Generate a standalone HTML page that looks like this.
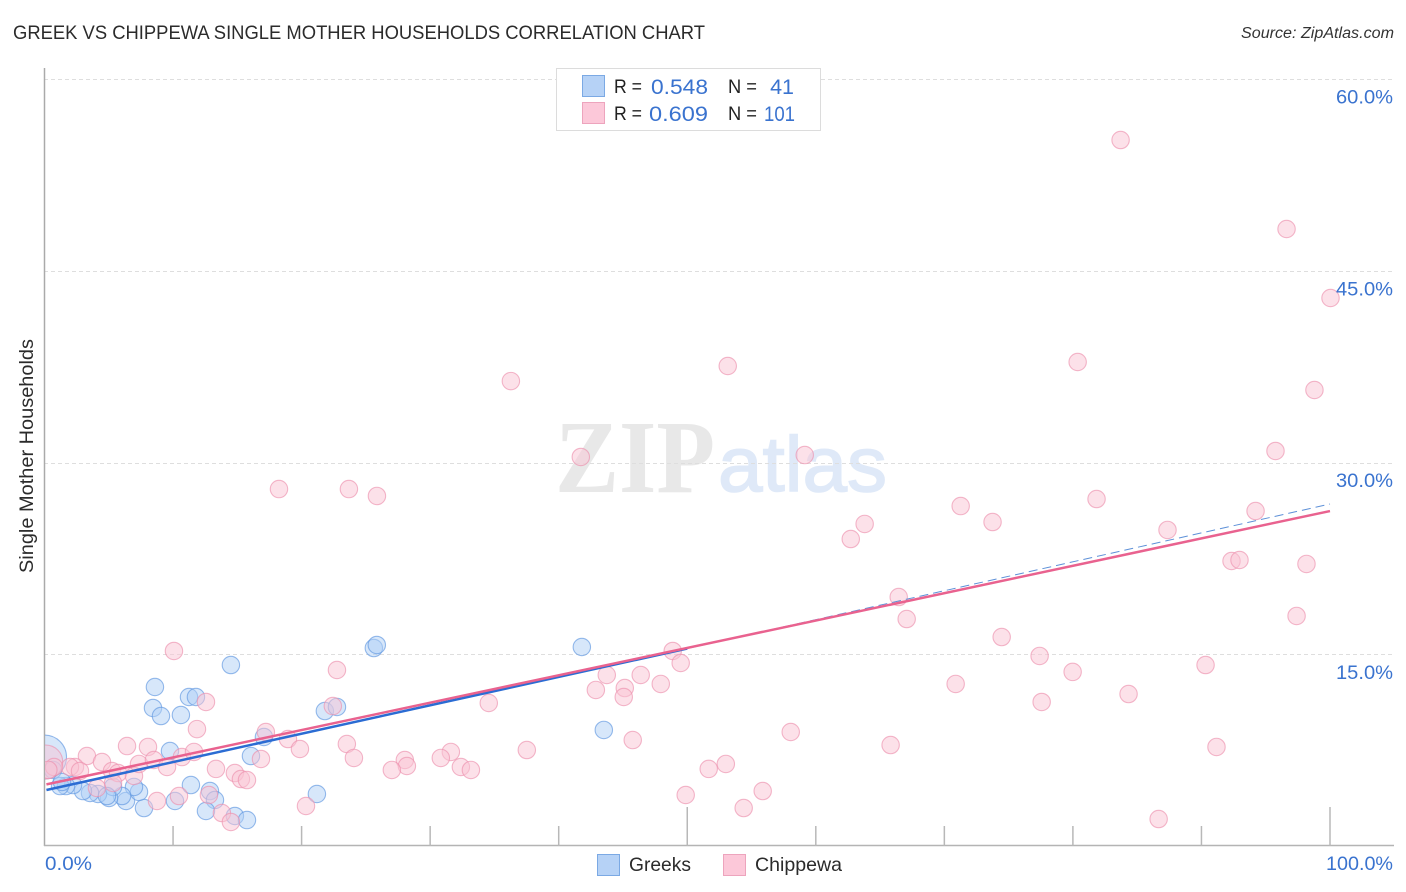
<!DOCTYPE html>
<html lang="en">
<head>
<meta charset="utf-8">
<title>Greek vs Chippewa Single Mother Households Correlation Chart</title>
<style>
html,body{margin:0;padding:0;background:#fff;width:1406px;height:892px;overflow:hidden}
svg{display:block;filter:blur(0.3px)}
text{font-family:"Liberation Sans",sans-serif}
</style>
</head>
<body>
<svg id="chart" xmlns="http://www.w3.org/2000/svg" width="1406" height="892" viewBox="0 0 1406 892">
  <defs><clipPath id="plot-clip"><rect x="45" y="60" width="1349" height="786"/></clipPath></defs>
  <rect x="0" y="0" width="1406" height="892" fill="#ffffff"/>
  <text x="13" y="39" font-size="19.5" fill="#2b2b2b" textLength="692" lengthAdjust="spacingAndGlyphs">GREEK VS CHIPPEWA SINGLE MOTHER HOUSEHOLDS CORRELATION CHART</text>
  <text x="1394" y="38" font-size="15.5" font-style="italic" fill="#333" text-anchor="end" textLength="153" lengthAdjust="spacingAndGlyphs">Source: ZipAtlas.com</text>
  <g>
    <text x="555" y="492" font-size="104" font-weight="bold" fill="#e8e8e8" textLength="160" lengthAdjust="spacingAndGlyphs" style="font-family:'Liberation Serif',serif">ZIP</text>
    <text x="718" y="491" font-size="78" fill="#dfe9f8" stroke="#dfe9f8" stroke-width="1.5" textLength="169" lengthAdjust="spacingAndGlyphs">atlas</text>
  </g>
  <g id="grid"></g>
  <g id="axes"></g>
  <g id="points" clip-path="url(#plot-clip)"></g>
  <g id="trends"></g>
  <g id="tick-labels"></g>
  <text transform="translate(33,456) rotate(-90)" font-size="19" fill="#2b2b2b" text-anchor="middle" textLength="234" lengthAdjust="spacingAndGlyphs">Single Mother Households</text>

  <g>
    <rect x="556.5" y="68.5" width="264" height="62" fill="#ffffff" stroke="#dcdcdc" stroke-width="1"/>
    <rect x="582.5" y="75.5" width="22" height="21" fill="#b6d2f6" stroke="#7ba9e4" stroke-width="1"/>
    <rect x="582.5" y="102.5" width="22" height="21" fill="#fcc8d9" stroke="#eda4bd" stroke-width="1"/>
    <text x="614" y="93" font-size="19.5" fill="#222" textLength="28" lengthAdjust="spacingAndGlyphs">R =</text>
    <text x="651" y="94" font-size="21.5" fill="#3a73cf" textLength="57" lengthAdjust="spacingAndGlyphs">0.548</text>
    <text x="728" y="93" font-size="19.5" fill="#222" textLength="29" lengthAdjust="spacingAndGlyphs">N =</text>
    <text x="794" y="94" font-size="21.5" fill="#3a73cf" text-anchor="end">41</text>
    <text x="614" y="120" font-size="19.5" fill="#222" textLength="28" lengthAdjust="spacingAndGlyphs">R =</text>
    <text x="649" y="121" font-size="21.5" fill="#3a73cf" textLength="59" lengthAdjust="spacingAndGlyphs">0.609</text>
    <text x="728" y="120" font-size="19.5" fill="#222" textLength="29" lengthAdjust="spacingAndGlyphs">N =</text>
    <text x="795" y="121" font-size="21.5" fill="#3a73cf" text-anchor="end" textLength="31" lengthAdjust="spacingAndGlyphs">101</text>
  </g>

  <g>
    <rect x="597.5" y="854.5" width="22" height="21" fill="#b6d2f6" stroke="#7ba9e4" stroke-width="1"/>
    <text x="629" y="871" font-size="19.5" fill="#2b2b2b" textLength="62" lengthAdjust="spacingAndGlyphs">Greeks</text>
    <rect x="723.5" y="854.5" width="22" height="21" fill="#fcc8d9" stroke="#eda4bd" stroke-width="1"/>
    <text x="755" y="871" font-size="19.5" fill="#2b2b2b" textLength="87" lengthAdjust="spacingAndGlyphs">Chippewa</text>
  </g>
</svg>
<script>
// ---- chart data (percent values) ----
const yTickValues = [15, 30, 45, 60];
const yTickLabels = ["15.0%", "30.0%", "45.0%", "60.0%"];
const xTickValues = [10, 20, 30, 40, 50, 60, 70, 80, 90, 100];
const xMajorTicks = [50, 100];
const xEndValues = [0, 100];
const xEndLabels = ["0.0%", "100.0%"];

const greeksX = [0.0,8.59,8.44,9.06,10.61,11.24,11.78,14.50,9.76,16.06,17.07,21.81,22.75,11.39,12.87,13.26,12.56,14.81,15.75,21.19,10.15,7.74,6.34,7.35,6.96,6.03,5.02,5.33,4.16,3.54,2.99,2.22,1.67,1.21,0.66,25.62,25.85,41.80,43.51,1.36,4.86];
const greeksY = [6.96,12.44,10.80,10.17,10.25,11.66,11.66,14.16,7.43,7.04,8.53,10.56,10.88,4.77,4.30,3.60,2.74,2.35,2.03,4.07,3.52,2.97,3.52,4.23,4.62,3.91,3.76,4.62,4.07,4.15,4.30,4.77,4.69,4.69,5.95,15.49,15.73,15.57,9.08,5.01,3.91];
const greeksWeight = [6.4];

const chippewaX = [0.1,10.07,22.75,12.56,11.86,22.43,6.42,8.05,3.30,4.47,2.37,1.98,2.76,0.74,5.25,5.72,6.96,7.35,8.51,9.53,10.69,11.63,17.22,18.94,19.87,16.84,13.34,14.81,15.28,15.75,10.46,8.75,12.79,13.80,14.50,20.34,23.52,24.07,5.33,4.08,34.56,37.52,31.61,30.83,32.39,33.17,28.03,28.19,27.02,42.89,43.74,45.14,45.06,46.38,47.94,48.87,49.49,45.76,49.88,83.71,96.62,100.04,98.79,80.37,53.15,36.28,41.72,59.14,95.76,18.24,23.68,25.86,71.27,81.84,73.75,63.80,62.72,87.36,94.21,92.34,92.96,98.17,66.45,67.07,97.40,74.46,77.41,90.32,79.98,70.88,84.33,77.57,58.05,65.82,91.17,53.00,51.67,55.87,54.39,86.67,0.3];
const chippewaY = [6.57,15.26,13.77,11.27,9.15,10.95,7.82,7.75,7.04,6.57,6.18,6.18,5.87,6.18,5.87,5.71,5.48,6.42,6.73,6.18,6.96,7.36,8.92,8.37,7.59,6.81,6.03,5.71,5.24,5.16,3.91,3.52,3.99,2.58,1.88,3.13,7.98,6.89,4.93,4.54,11.19,7.51,7.36,6.89,6.18,5.95,6.73,6.26,5.95,12.21,13.38,12.36,11.66,13.38,12.68,15.26,14.32,8.29,3.99,55.24,48.28,42.88,35.68,37.87,37.56,36.38,30.44,30.59,30.91,27.93,27.93,27.39,26.60,27.15,25.35,25.20,24.02,24.73,26.21,22.30,22.38,22.07,19.48,17.76,18.00,16.35,14.87,14.16,13.62,12.68,11.89,11.27,8.92,7.90,7.75,6.42,6.03,4.30,2.97,2.11,5.95];
const chippewaWeight = [3.8];

const greeksTrendX = [0.15, 50];
const greeksTrendY = [4.38, 15.45];
const greeksDashX = [50, 100];
const greeksDashY = [15.45, 26.76];
const chippewaTrendX = [0.15, 100];
const chippewaTrendY = [4.82, 26.21];

// ---- axis functions ----
function xScale(v){ return 44.5 + v * 12.855; }
function yScale(v){ return 846 - v * 12.78; }
const NS = 'http://www.w3.org/2000/svg';
function make(tag, parent, attrs){
  const el = document.createElementNS(NS, tag);
  Object.keys(attrs).forEach(function(k){ el.setAttribute(k, attrs[k]); });
  parent.appendChild(el);
  return el;
}

// gridlines
const gridG = document.getElementById('grid');
yTickValues.forEach(function(v){
  const py = Math.round(yScale(v)) + 0.5;
  const line = make('line', gridG, {x1:44, x2:1394, y1:py, y2:py, stroke:'#dedede', 'stroke-width':1, 'stroke-dasharray':'4 3'});
  
  
});

// axes
const axesG = document.getElementById('axes');
const yAxis = make('line', axesG, {x1:44.5, x2:44.5, y1:68, y2:846, stroke:'#aaaaaa', 'stroke-width':1.5});


const xAxis = make('line', axesG, {x1:44, x2:1394, y1:845.5, y2:845.5, stroke:'#b4b4b4', 'stroke-width':1.5});


xTickValues.forEach(function(v){
  const px = xScale(v);
  const top = xMajorTicks.indexOf(v) >= 0 ? 807 : 826;
  const tick = make('line', axesG, {x1:px, x2:px, y1:top, y2:846, stroke:'#b8b8b8', 'stroke-width':1.5});
  
  
});

// points
const pointsG = document.getElementById('points');
const BASE_R = 8.7;
function drawSeries(xs, ys, weights, fill, stroke, name){
  xs.forEach(function(xv, i){
    const w = weights[i] || 1;
    const c = make('circle', pointsG, {cx:xScale(xv), cy:yScale(ys[i]), r:BASE_R * Math.sqrt(w), fill:fill, 'fill-opacity':0.5, stroke:stroke, 'stroke-opacity':0.65, 'stroke-width':1.1});
    
    
  });
}
drawSeries(greeksX, greeksY, greeksWeight, '#b0cff5', '#5f97e0', 'greeks-point');
drawSeries(chippewaX, chippewaY, chippewaWeight, '#f9c3d3', '#ec90ae', 'chippewa-point');

// trend lines
const trendsG = document.getElementById('trends');
const greeksSolid = make('line', trendsG, {x1:xScale(greeksTrendX[0]), y1:yScale(greeksTrendY[0]), x2:xScale(greeksTrendX[1]), y2:yScale(greeksTrendY[1]), stroke:'#2b6cd3', 'stroke-width':2.5});


const greeksDash = make('line', trendsG, {x1:xScale(greeksDashX[0]), y1:yScale(greeksDashY[0]), x2:xScale(greeksDashX[1]), y2:yScale(greeksDashY[1]), stroke:'#5d90d8', 'stroke-width':1, 'stroke-dasharray':'9 5'});


const chippewaLine = make('line', trendsG, {x1:xScale(chippewaTrendX[0]), y1:yScale(chippewaTrendY[0]), x2:xScale(chippewaTrendX[1]), y2:yScale(chippewaTrendY[1]), stroke:'#e9628f', 'stroke-width':2.5});



// tick labels
const labelsG = document.getElementById('tick-labels');
yTickValues.forEach(function(v, i){
  const t = make('text', labelsG, {x:1393, y:yScale(v) + 24.5, 'font-size':19.5, fill:'#3a73cf', 'text-anchor':'end', textLength:57, lengthAdjust:'spacingAndGlyphs'});
  
  
  t.textContent = yTickLabels[i];
});
xEndValues.forEach(function(v, i){
  const t = make('text', labelsG, {x: i === 0 ? 45 : 1393, y:870, 'font-size':19.5, fill:'#3a73cf', 'text-anchor': i === 0 ? 'start' : 'end', textLength: i === 0 ? 47 : 67, lengthAdjust:'spacingAndGlyphs'});
  
  
  t.textContent = xEndLabels[i];
});
</script>
</body>
</html>
